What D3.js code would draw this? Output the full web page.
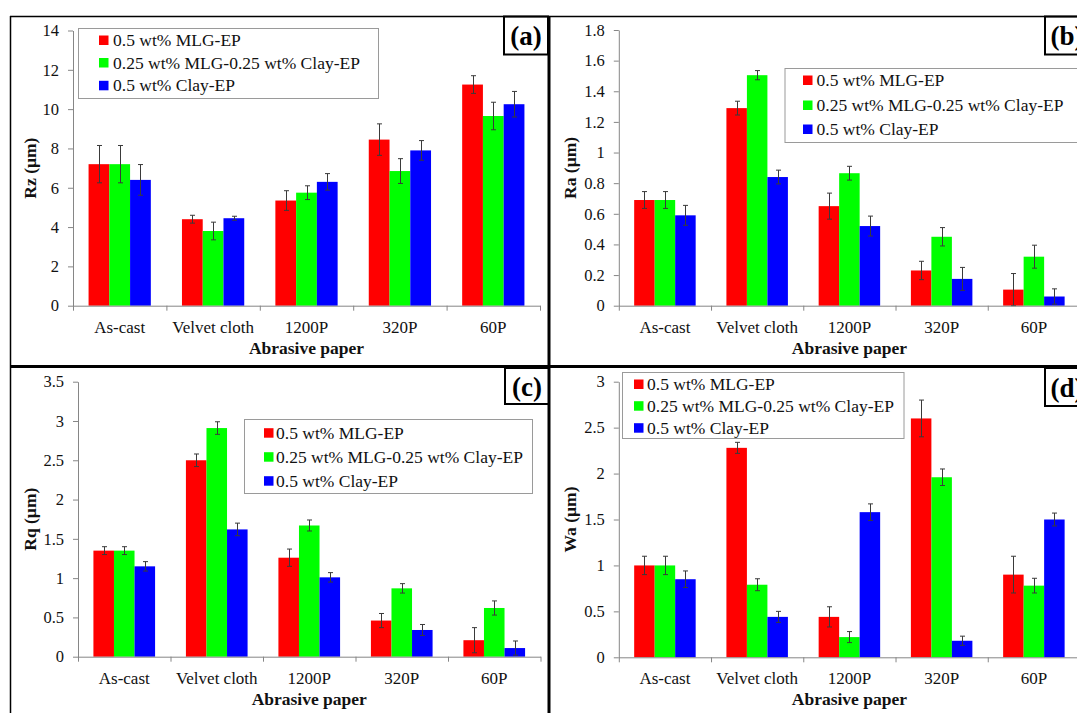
<!DOCTYPE html>
<html><head><meta charset="utf-8">
<script src="https://cdnjs.cloudflare.com/ajax/libs/d3/7.8.5/d3.min.js"></script>
<style>
html,body{margin:0;padding:0;background:#fff;}
svg{display:block;font-family:"Liberation Serif","Times New Roman",serif;}
</style></head>
<body>
<svg id="c" width="1077" height="713"></svg>
<script>
// ---------- data ----------
const categories = ["As-cast", "Velvet cloth", "1200P", "320P", "60P"];
const seriesNames = ["0.5 wt% MLG-EP", "0.25 wt% MLG-0.25 wt% Clay-EP", "0.5 wt% Clay-EP"];
const seriesColors = ["#ff0000", "#00ff00", "#0000ff"];

// (a) Rz
const rzMLG  = [7.2, 4.4, 5.35, 8.45, 11.25];
const rzHyb  = [7.2, 3.8, 5.75, 6.85, 9.65];
const rzClay = [6.4, 4.45, 6.3, 7.9, 10.25];
const rzMLGErr  = [0.95, 0.2, 0.5, 0.8, 0.45];
const rzHybErr  = [0.95, 0.45, 0.35, 0.63, 0.7];
const rzClayErr = [0.78, 0.1, 0.42, 0.5, 0.65];
const rzTicks = [0, 2, 4, 6, 8, 10, 12, 14];

// (b) Ra
const raMLG  = [0.69, 1.29, 0.65, 0.23, 0.105];
const raHyb  = [0.69, 1.505, 0.865, 0.45, 0.32];
const raClay = [0.59, 0.84, 0.52, 0.175, 0.06];
const raMLGErr  = [0.055, 0.045, 0.085, 0.06, 0.105];
const raHybErr  = [0.055, 0.03, 0.045, 0.06, 0.075];
const raClayErr = [0.065, 0.045, 0.065, 0.075, 0.05];
const raTicks = [0, 0.2, 0.4, 0.6, 0.8, 1, 1.2, 1.4, 1.6, 1.8];

// (c) Rq
const rqMLG  = [1.35, 2.5, 1.26, 0.46, 0.21];
const rqHyb  = [1.35, 2.91, 1.67, 0.87, 0.62];
const rqClay = [1.15, 1.62, 1.01, 0.34, 0.11];
const rqMLGErr  = [0.05, 0.08, 0.11, 0.09, 0.16];
const rqHybErr  = [0.05, 0.08, 0.07, 0.06, 0.09];
const rqClayErr = [0.06, 0.08, 0.06, 0.07, 0.09];
const rqTicks = [0, 0.5, 1, 1.5, 2, 2.5, 3, 3.5];

// (d) Wa
const waMLG  = [1.0, 2.28, 0.44, 2.6, 0.9];
const waHyb  = [1.0, 0.79, 0.22, 1.96, 0.78];
const waClay = [0.85, 0.44, 1.58, 0.18, 1.5];
const waMLGErr  = [0.1, 0.06, 0.11, 0.2, 0.2];
const waHybErr  = [0.1, 0.065, 0.06, 0.09, 0.08];
const waClayErr = [0.09, 0.06, 0.09, 0.05, 0.07];
const waTicks = [0, 0.5, 1, 1.5, 2, 2.5, 3];

// ---------- layout ----------
const panels = [
  {label:"(a)", yTitle:"Rz (\u00b5m)", values:[rzMLG,rzHyb,rzClay], errs:[rzMLGErr,rzHybErr,rzClayErr], ticks:rzTicks,
   x0:73, x1:540, y0:305.7, yT:30.5, titleX:30,
   legend:{x:78.5, y:28.5, w:300, h:70, mx:99, tx:113, cy:[40,62.5,85.3]},
   box:{x:504, y:16.5, w:44, h:38}},
  {label:"(b)", yTitle:"Ra (\u00b5m)", values:[raMLG,raHyb,raClay], errs:[raMLGErr,raHybErr,raClayErr], ticks:raTicks,
   x0:618.8, x1:1080, y0:305.7, yT:30, titleX:570,
   legend:{x:785, y:68.5, w:300, h:74, mx:803, tx:816.5, cy:[80,105,129]},
   box:{x:1045, y:16.5, w:44, h:38}},
  {label:"(c)", yTitle:"Rq (\u00b5m)", values:[rqMLG,rqHyb,rqClay], errs:[rqMLGErr,rqHybErr,rqClayErr], ticks:rqTicks,
   x0:78, x1:540.5, y0:656.7, yT:381.7, titleX:30,
   legend:{x:244.5, y:419.5, w:288, h:74, mx:264, tx:276, cy:[432.7,456.7,480.7]},
   box:{x:505, y:368, w:44, h:36}},
  {label:"(d)", yTitle:"Wa (\u00b5m)", values:[waMLG,waHyb,waClay], errs:[waMLGErr,waHybErr,waClayErr], ticks:waTicks,
   x0:618.8, x1:1080, y0:657.3, yT:381.7, titleX:570,
   legend:{x:622.5, y:372.5, w:281.5, h:66, mx:634, tx:647, cy:[384,405.7,427.7]},
   box:{x:1045, y:368, w:44, h:38}}
];

const svg = d3.select("#c");
const axisColor = "#868686";

panels.forEach(p => {
  const g = svg.append("g");
  const yMax = p.ticks[p.ticks.length-1];
  const y = d3.scaleLinear().domain([0, yMax]).range([p.y0, p.yT]);
  const x = d3.scaleBand().domain(categories).range([p.x0, p.x1]).paddingInner(0).paddingOuter(0);
  const xs = d3.scaleBand().domain([0,1,2]).range([0, x.bandwidth()]).paddingInner(0).paddingOuter(0.75);
  const xb = d3.scaleLinear().domain([0, categories.length]).range([p.x0, p.x1]);

  // bars
  p.values.forEach((vals, si) => {
    g.append("g").selectAll("rect").data(categories.map((c,i)=>({c, v:vals[i]})))
      .join("rect")
      .attr("x", d => x(d.c) + xs(si))
      .attr("width", xs.bandwidth())
      .attr("y", d => y(d.v))
      .attr("height", d => y(0) - y(d.v))
      .attr("fill", seriesColors[si]);
  });
  // error bars
  p.values.forEach((vals, si) => {
    const eg = g.append("g").attr("stroke", "#3a3a3a").attr("stroke-width", 1);
    categories.forEach((c, i) => {
      const cx = Math.round(x(c) + xs(si) + xs.bandwidth()/2) + 0.5;
      const lo = Math.max(0, vals[i] - p.errs[si][i]);
      const hi = vals[i] + p.errs[si][i];
      eg.append("line").attr("x1", cx).attr("x2", cx).attr("y1", y(lo)).attr("y2", y(hi));
      eg.append("line").attr("x1", cx-2.5).attr("x2", cx+2.5).attr("y1", y(hi)).attr("y2", y(hi));
      eg.append("line").attr("x1", cx-2.5).attr("x2", cx+2.5).attr("y1", y(lo)).attr("y2", y(lo));
    });
  });

  // y axis
  const ya = g.append("g").attr("transform", `translate(${p.x0},0)`)
    .call(d3.axisLeft(y).tickValues(p.ticks).tickSize(5).tickSizeOuter(0).tickPadding(9).tickFormat(d => String(+d.toFixed(2))));
  ya.select(".domain").attr("stroke", axisColor);
  ya.selectAll(".tick line").attr("stroke", axisColor);
  ya.selectAll("text").attr("font-family", "Liberation Serif, Times New Roman, serif").attr("font-size", 16.5).attr("fill", "#111");

  // x axis (ticks at category boundaries)
  const xa = g.append("g").attr("transform", `translate(0,${p.y0})`)
    .call(d3.axisBottom(xb).tickValues(d3.range(categories.length+1)).tickSize(5).tickSizeOuter(0).tickFormat(""));
  xa.select(".domain").attr("stroke", axisColor);
  xa.selectAll(".tick line").attr("stroke", axisColor);
  const xl = g.append("g").attr("transform", `translate(0,${p.y0})`)
    .call(d3.axisBottom(x).tickSize(0).tickPadding(15));
  xl.select(".domain").remove();
  xl.selectAll("text").attr("font-family", "Liberation Serif, Times New Roman, serif").attr("font-size", 17).attr("fill", "#111");

  // axis titles
  g.append("text").attr("x", (p.x0 + p.x1)/2).attr("y", p.y0 + 48)
    .attr("text-anchor", "middle").attr("font-weight", "bold").attr("font-size", 17.5).attr("fill", "#111")
    .text("Abrasive paper");
  g.append("text").attr("transform", `translate(${p.titleX + 6},${(p.y0 + p.yT)/2}) rotate(-90)`)
    .attr("text-anchor", "middle").attr("font-weight", "bold").attr("font-size", 17.5).attr("fill", "#111")
    .text(p.yTitle);

  // legend
  const L = p.legend;
  const lg = g.append("g");
  lg.append("rect").attr("x", L.x).attr("y", L.y).attr("width", L.w).attr("height", L.h)
    .attr("fill", "#fff").attr("stroke", "#9a9a9a").attr("stroke-width", 1);
  seriesNames.forEach((n, i) => {
    lg.append("rect").attr("x", L.mx).attr("y", L.cy[i] - 4.5).attr("width", 9.5).attr("height", 9.5).attr("fill", seriesColors[i]);
    lg.append("text").attr("x", L.tx).attr("y", L.cy[i] + 6).attr("font-size", 17.5).attr("fill", "#111").text(n);
  });

  // panel label box
  const B = p.box;
  g.append("rect").attr("x", B.x).attr("y", B.y).attr("width", B.w).attr("height", B.h)
    .attr("fill", "#fff").attr("stroke", "#000").attr("stroke-width", 2);
  g.append("text").attr("x", B.x + B.w/2).attr("y", B.y + B.h/2 + 9.5).attr("text-anchor", "middle")
    .attr("font-weight", "bold").attr("font-size", 27).attr("fill", "#000").text(p.label);
});

// frame lines
const fr = svg.append("g").attr("stroke", "#000");
fr.append("line").attr("x1", 10).attr("x2", 1077).attr("y1", 16.5).attr("y2", 16.5).attr("stroke-width", 1.5);
fr.append("line").attr("x1", 10.5).attr("x2", 10.5).attr("y1", 16).attr("y2", 713).attr("stroke-width", 1.5);
fr.append("line").attr("x1", 549).attr("x2", 549).attr("y1", 16).attr("y2", 713).attr("stroke-width", 3);
fr.append("line").attr("x1", 10).attr("x2", 1077).attr("y1", 366.5).attr("y2", 366.5).attr("stroke-width", 3);
</script>
</body></html>
